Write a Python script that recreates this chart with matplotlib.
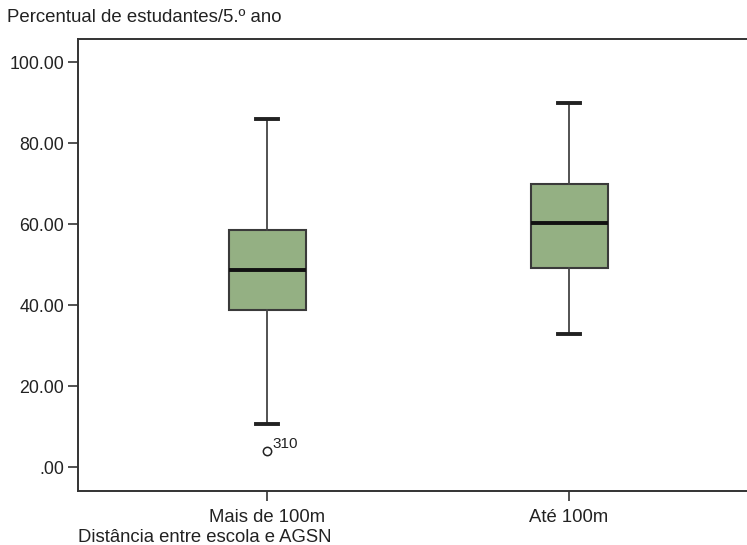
import matplotlib
matplotlib.use("Agg")
import matplotlib.pyplot as plt

plt.rcParams['font.family'] = ['Liberation Sans', 'DejaVu Sans']

# dados
grupos = ['Mais de 100m', 'Até 100m']
minimos = [10.6, 32.8]
q1 = [38.8, 49.1]
medianas = [48.6, 60.2]
q3 = [58.5, 69.9]
maximos = [85.9, 89.9]
outliers = [[4.0], []]
outlier_ids = [['310'], []]

stats = []
for i, nome in enumerate(grupos):
    stats.append({'label': nome, 'whislo': minimos[i], 'q1': q1[i], 'med': medianas[i],
                  'q3': q3[i], 'whishi': maximos[i], 'fliers': outliers[i]})

fig = plt.figure(figsize=(7.47, 5.45), dpi=100)
ax = fig.add_axes([78 / 747, 1 - 491 / 545, 1 - 78 / 747, (491 - 39) / 545])

ax.bxp(stats, positions=[1, 2], widths=0.255, capwidths=0.073, patch_artist=True,
       boxprops=dict(facecolor='#94b083', edgecolor='#3a3a3a', linewidth=1.5),
       medianprops=dict(color='#111111', linewidth=2.8),
       whiskerprops=dict(color='#444444', linewidth=1.3),
       capprops=dict(color='#222222', linewidth=2.8),
       flierprops=dict(marker='o', markersize=6, markerfacecolor='white',
                       markeredgecolor='#222222', markeredgewidth=1.1))

for i, ids in enumerate(outlier_ids):
    for val, txt in zip(outliers[i], ids):
        ax.annotate(txt, (i + 1, val), xytext=(4, 2), textcoords='offset points',
                    fontsize=11, color='#222222')

ax.set_xlim(0.374, 2.589)
ax.set_ylim(-5.9, 105.7)
ax.set_yticks([0, 20, 40, 60, 80, 100])
ax.set_yticklabels(['.00', '20.00', '40.00', '60.00', '80.00', '100.00'])
ax.set_xticks([1, 2])
ax.set_xticklabels(grupos)
ax.tick_params(axis='both', length=7, width=1.2, color='#333333',
               labelcolor='#222222', pad=3)
ax.tick_params(axis='y', labelsize=12.8)
ax.tick_params(axis='x', labelsize=13.3, pad=6)
ax.spines['right'].set_visible(False)
for s in ['left', 'top', 'bottom']:
    ax.spines[s].set_color('#333333')
    ax.spines[s].set_linewidth(1.4)

fig.text(7 / 747, 1 - 18 / 545, 'Percentual de estudantes/5.º ano', fontsize=13.4,
         color='#222222', va='center', ha='left')
fig.text(78 / 747, 1 - 537 / 545, 'Distância entre escola e AGSN', fontsize=13.3,
         color='#222222', va='center', ha='left')

fig.savefig('out.png', dpi=100)
